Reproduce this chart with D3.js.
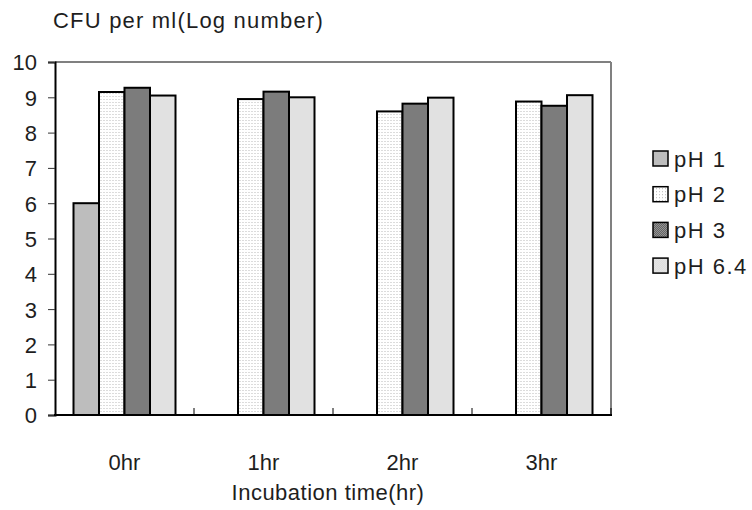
<!DOCTYPE html>
<html>
<head>
<meta charset="utf-8">
<script src="https://cdn.jsdelivr.net/npm/d3@7/dist/d3.min.js"></script>
<style>
  html, body { margin: 0; padding: 0; background: #fff; }
  svg { display: block; }
  text { font-family: "Liberation Sans", Arial, sans-serif; fill: #1e1e1e; }
</style>
</head>
<body>
<script>
// Viable counts (log CFU/ml) after incubation at each pH
const categories = ["0hr", "1hr", "2hr", "3hr"];
const seriesNames = ["pH 1", "pH 2", "pH 3", "pH 6.4"];
const pH1  = [6.0, 0, 0, 0];
const pH2  = [9.15, 8.95, 8.6, 8.88];
const pH3  = [9.27, 9.16, 8.82, 8.76];
const pH64 = [9.05, 9.0, 8.99, 9.06];
const yTicks = [0, 1, 2, 3, 4, 5, 6, 7, 8, 9, 10];

const seriesValues = [pH1, pH2, pH3, pH64];
const data = categories.map((c, i) => ({
  cat: c,
  vals: seriesNames.map((s, j) => ({ key: s, idx: j, v: seriesValues[j][i] }))
}));

const W = 752, H = 510;
const plot = { left: 55, right: 611, top: 62, bottom: 415 };

const svg = d3.select("body").append("svg").attr("width", W).attr("height", H);

// Bitmap-like fill patterns for each series
const defs = svg.append("defs");
function checker(id, a, b) {
  const p = defs.append("pattern").attr("id", id).attr("patternUnits", "userSpaceOnUse")
    .attr("width", 2).attr("height", 2);
  p.append("rect").attr("width", 2).attr("height", 2).attr("fill", a);
  p.append("rect").attr("width", 1).attr("height", 1).attr("fill", b);
  p.append("rect").attr("x", 1).attr("y", 1).attr("width", 1).attr("height", 1).attr("fill", b);
}
function dots(id, bg, dot, step) {
  const p = defs.append("pattern").attr("id", id).attr("patternUnits", "userSpaceOnUse")
    .attr("width", step).attr("height", step);
  p.append("rect").attr("width", step).attr("height", step).attr("fill", bg);
  p.append("rect").attr("width", 1).attr("height", 1).attr("fill", dot);
}
checker("pat0", "#d4d4d4", "#a6a6a6");
dots("pat1", "#ffffff", "#b8b8b8", 3);
checker("pat2", "#9a9a9a", "#5e5e5e");
checker("pat3", "#f0f0f0", "#d2d2d2");
const fills = ["url(#pat0)", "url(#pat1)", "url(#pat2)", "url(#pat3)"];

const x0 = d3.scaleBand().domain(categories).range([plot.left, plot.right]).paddingInner(0).paddingOuter(0);
const groupW = 102;
const x1 = d3.scaleBand().domain(seriesNames).range([0, groupW]).padding(0);
const y = d3.scaleLinear().domain([0, 10]).range([plot.bottom, plot.top]);

// Plot frame: top/right grey, left/bottom black
svg.append("line").attr("x1", plot.left).attr("x2", plot.right).attr("y1", plot.top).attr("y2", plot.top)
  .attr("stroke", "#808080").attr("stroke-width", 2);
svg.append("line").attr("x1", plot.right).attr("x2", plot.right).attr("y1", plot.top).attr("y2", plot.bottom)
  .attr("stroke", "#808080").attr("stroke-width", 2);

// Bars
const groups = svg.append("g").selectAll("g").data(data).join("g")
  .attr("transform", d => `translate(${x0(d.cat) + (x0.bandwidth() - groupW) / 2},0)`);
groups.selectAll("rect").data(d => d.vals.filter(v => v.v > 0)).join("rect")
  .attr("x", d => x1(d.key))
  .attr("y", d => y(d.v))
  .attr("width", x1.bandwidth())
  .attr("height", d => y(0) - y(d.v))
  .attr("fill", d => fills[d.idx])
  .attr("stroke", "#000").attr("stroke-width", 2);

// Y axis
const yAxis = svg.append("g").attr("transform", `translate(${plot.left},0)`)
  .call(d3.axisLeft(y).tickValues(yTicks).tickSize(7).tickPadding(11).tickFormat(d3.format("d")));
yAxis.attr("font-family", null).attr("font-size", null);
yAxis.select(".domain").attr("stroke", "#000").attr("stroke-width", 2);
yAxis.selectAll(".tick line").attr("stroke", "#333");
yAxis.selectAll("text").style("font-size", "22px").attr("fill", "#1e1e1e").attr("dy", "0.36em");

// X axis: category labels, ticks between groups pointing up
const xAxis = svg.append("g").attr("transform", `translate(0,${plot.bottom})`);
xAxis.append("line").attr("x1", plot.left - 1).attr("x2", plot.right + 1).attr("y1", 0).attr("y2", 0)
  .attr("stroke", "#000").attr("stroke-width", 2);
const boundaries = categories.map(c => x0(c)).concat([plot.right]).slice(1);
xAxis.selectAll("line.tk").data(boundaries).join("line").attr("class", "tk")
  .attr("x1", d => d).attr("x2", d => d).attr("y1", 0).attr("y2", -7)
  .attr("stroke", "#000").attr("stroke-width", 1);
xAxis.selectAll("text").data(categories).join("text")
  .attr("x", d => x0(d) + x0.bandwidth() / 2)
  .attr("y", 55)
  .attr("text-anchor", "middle")
  .style("font-size", "22px")
  .text(d => d);

// Axis titles
svg.append("text").attr("x", 53).attr("y", 28).style("font-size", "22px")
  .style("letter-spacing", "1.2px")
  .text("CFU per ml(Log number)");
svg.append("text").attr("x", 328).attr("y", 500)
  .attr("text-anchor", "middle").style("font-size", "22px").style("letter-spacing", "0.5px")
  .text("Incubation time(hr)");

// Legend
const legend = svg.append("g").attr("transform", "translate(653,158.5)");
const li = legend.selectAll("g").data(seriesNames).join("g")
  .attr("transform", (d, i) => `translate(0,${i * 35.7})`);
li.append("rect").attr("x", 0).attr("y", -7.5).attr("width", 15).attr("height", 15)
  .attr("fill", (d, i) => fills[i]).attr("stroke", "#000").attr("stroke-width", 1.5);
li.append("text").attr("x", 21).attr("y", 8).style("font-size", "22px")
  .style("letter-spacing", "1.5px").text(d => d);
</script>
</body>
</html>
